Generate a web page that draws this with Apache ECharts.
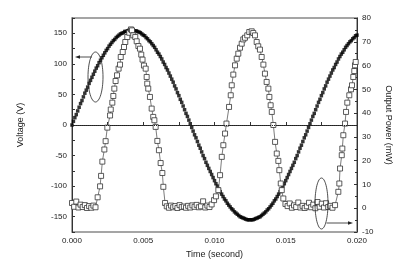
<!DOCTYPE html>
<html>
<head>
<meta charset="utf-8">
<script src="https://cdn.jsdelivr.net/npm/echarts@6/dist/echarts.min.js"></script>
<style>
  html, body { margin: 0; padding: 0; background: #fff; }
  #chart { width: 393px; height: 261px; }
</style>
</head>
<body>
<div id="chart"></div>
<script>
// voltage samples [time (s), voltage (V)]
var voltage = [
  [0, 0], [0.0001, 6], [0.0002, 12], [0.0003, 17], [0.0004, 23], [0.0005, 29], [0.0006, 35], [0.0007, 40],
  [0.0008, 46], [0.0009, 52], [0.001, 57], [0.0011, 62], [0.0012, 68], [0.0013, 73], [0.0014, 78], [0.0015, 83],
  [0.0016, 88], [0.0017, 93], [0.0018, 97], [0.0019, 102], [0.002, 106], [0.0021, 110], [0.0022, 114], [0.0023, 118],
  [0.0024, 122], [0.0025, 125], [0.0026, 129], [0.0027, 132], [0.0028, 135], [0.0029, 138], [0.003, 140], [0.0031, 143],
  [0.0032, 145], [0.0033, 147], [0.0034, 149], [0.0035, 150], [0.0036, 151], [0.0037, 153], [0.0038, 153], [0.0039, 154],
  [0.004, 155], [0.0041, 155], [0.0042, 155], [0.0043, 155], [0.0044, 154], [0.0045, 154], [0.0046, 153], [0.0047, 152],
  [0.0048, 151], [0.0049, 149], [0.005, 147], [0.0051, 146], [0.0052, 143], [0.0053, 141], [0.0054, 138], [0.0055, 136],
  [0.0056, 133], [0.0057, 130], [0.0058, 127], [0.0059, 123], [0.006, 119], [0.0061, 116], [0.0062, 112], [0.0063, 108],
  [0.0064, 103], [0.0065, 99], [0.0066, 94], [0.0067, 90], [0.0068, 85], [0.0069, 80], [0.007, 75], [0.0071, 70],
  [0.0072, 64], [0.0073, 59], [0.0074, 53], [0.0075, 48], [0.0076, 42], [0.0077, 37], [0.0078, 31], [0.0079, 25],
  [0.008, 19], [0.0081, 14], [0.0082, 8], [0.0083, 2], [0.0084, -4], [0.0085, -10], [0.0086, -16], [0.0087, -21],
  [0.0088, -27], [0.0089, -33], [0.009, -38], [0.0091, -44], [0.0092, -50], [0.0093, -55], [0.0094, -61], [0.0095, -66],
  [0.0096, -71], [0.0097, -76], [0.0098, -81], [0.0099, -86], [0.01, -91], [0.0101, -96], [0.0102, -100], [0.0103, -105],
  [0.0104, -109], [0.0105, -113], [0.0106, -117], [0.0107, -121], [0.0108, -124], [0.0109, -128], [0.011, -131], [0.0111, -134],
  [0.0112, -137], [0.0113, -139], [0.0114, -142], [0.0115, -144], [0.0116, -146], [0.0117, -148], [0.0118, -150], [0.0119, -151],
  [0.012, -152], [0.0121, -153], [0.0122, -154], [0.0123, -155], [0.0124, -155], [0.0125, -155], [0.0126, -155], [0.0127, -155],
  [0.0128, -154], [0.0129, -153], [0.013, -152], [0.0131, -151], [0.0132, -150], [0.0133, -148], [0.0134, -146], [0.0135, -144],
  [0.0136, -142], [0.0137, -139], [0.0138, -137], [0.0139, -134], [0.014, -131], [0.0141, -128], [0.0142, -124], [0.0143, -121],
  [0.0144, -117], [0.0145, -113], [0.0146, -109], [0.0147, -105], [0.0148, -100], [0.0149, -96], [0.015, -91], [0.0151, -86],
  [0.0152, -81], [0.0153, -76], [0.0154, -71], [0.0155, -66], [0.0156, -61], [0.0157, -55], [0.0158, -50], [0.0159, -44],
  [0.016, -38], [0.0161, -33], [0.0162, -27], [0.0163, -21], [0.0164, -16], [0.0165, -10], [0.0166, -4], [0.0167, 2],
  [0.0168, 8], [0.0169, 14], [0.017, 19], [0.0171, 25], [0.0172, 31], [0.0173, 37], [0.0174, 42], [0.0175, 48],
  [0.0176, 53], [0.0177, 59], [0.0178, 64], [0.0179, 70], [0.018, 75], [0.0181, 80], [0.0182, 85], [0.0183, 90],
  [0.0184, 94], [0.0185, 99], [0.0186, 103], [0.0187, 108], [0.0188, 112], [0.0189, 116], [0.019, 119], [0.0191, 123],
  [0.0192, 127], [0.0193, 130], [0.0194, 133], [0.0195, 136], [0.0196, 138], [0.0197, 141], [0.0198, 143], [0.0199, 146],
  [0.02, 147]
];

// output power samples [time (s), power (mW)]
var power = [
  [0, 2.2], [0.00015, 0.6], [0.0003, 2.8], [0.00045, 0.3], [0.0006, 1.5], [0.00075, 0.5],
  [0.0009, 1.3], [0.00105, 0.1], [0.0012, 0.9], [0.00135, 0.2], [0.0015, 1.1], [0.00165, 0.4],
  [0.0018, 4.6], [0.00197, 9.2], [0.00204, 13.6], [0.00213, 19.6], [0.00227, 24.7], [0.00236, 28.2],
  [0.00248, 33.9], [0.00267, 39.0], [0.00272, 41.5], [0.00283, 44.4], [0.0029, 47.2], [0.00297, 50.3],
  [0.00306, 53.5], [0.00316, 55.9], [0.00327, 58.7], [0.00337, 60.4], [0.00342, 63.6], [0.00356, 65.7],
  [0.00365, 67.8], [0.00374, 69.9], [0.00388, 72.0], [0.00402, 73.8], [0.00414, 75.2], [0.00421, 74.8],
  [0.0043, 72.7], [0.00444, 72.0], [0.00454, 70.2], [0.00466, 68.2], [0.00477, 67.1], [0.00486, 64.6],
  [0.00495, 62.5], [0.00505, 60.0], [0.00517, 58.7], [0.00524, 55.2], [0.00528, 52.4], [0.00535, 50.3],
  [0.00547, 46.8], [0.00559, 41.9], [0.0057, 38.4], [0.00578, 37.0], [0.00587, 34.2], [0.00599, 28.3],
  [0.0061, 24.4], [0.00622, 19.0], [0.00634, 14.8], [0.00641, 9.0], [0.00653, 2.2],
  [0.00665, 0.8], [0.0068, 0.2], [0.00695, 1.1], [0.0071, 0.4], [0.00725, 0.9], [0.0074, 0.1],
  [0.00755, 1.3], [0.0077, 0.5], [0.00785, 0.7], [0.008, 0.2], [0.00815, 1.0], [0.0083, 0.3],
  [0.00845, 1.2], [0.0086, 0.6], [0.00875, 1.4], [0.0089, 0.4], [0.00905, 0.8], [0.0092, 2.9],
  [0.00935, 0.3], [0.0095, 1.1], [0.00965, 0.5], [0.0098, 1.6],
  [0.00997, 3.4], [0.0101, 5.0], [0.01027, 7.6], [0.01039, 13.9], [0.01051, 21.6], [0.01062, 26.5],
  [0.01074, 31.4], [0.01084, 35.6], [0.01102, 42.6], [0.01114, 47.5], [0.01121, 51.7], [0.01132, 56.2],
  [0.01144, 60.1], [0.01156, 62.9], [0.01167, 65.0], [0.01179, 67.5], [0.01191, 69.2], [0.01202, 71.0],
  [0.01214, 71.7], [0.0123, 72.7], [0.01244, 74.1], [0.01261, 74.4], [0.01272, 73.7], [0.01284, 72.7],
  [0.01296, 69.9], [0.01307, 68.1], [0.01319, 66.7], [0.01331, 63.6], [0.01343, 60.4], [0.01354, 56.6],
  [0.01366, 53.1], [0.01378, 50.3], [0.01385, 46.8], [0.01394, 43.3], [0.01402, 40.5], [0.01413, 35.0],
  [0.01425, 27.9], [0.01437, 23.0], [0.01448, 19.9], [0.01455, 16.0], [0.01465, 10.4], [0.01472, 7.6],
  [0.01483, 4.1],
  [0.01498, 1.8], [0.01513, 0.9], [0.01528, 2.0], [0.01543, 0.2], [0.01558, 1.2], [0.01573, 0.5],
  [0.01588, 2.4], [0.01603, 0.3], [0.01618, 1.0], [0.01633, 0.1], [0.01648, 0.8], [0.01663, 2.3],
  [0.01678, 0.4], [0.01693, 1.5], [0.01708, 0.0], [0.01723, 2.6], [0.01738, 0.6], [0.01753, 1.9],
  [0.01768, 0.3], [0.01783, 2.1], [0.01798, 0.5], [0.01813, 1.0], [0.01828, 0.2],
  [0.01846, 1.3], [0.01869, 6.9], [0.01876, 10.4], [0.01881, 16.7], [0.01893, 22.3], [0.01897, 25.1],
  [0.01904, 30.7], [0.01916, 35.6], [0.01923, 40.5], [0.01932, 44.4], [0.01946, 47.5], [0.01958, 50.0],
  [0.01965, 51.7], [0.01974, 55.2], [0.01981, 57.7], [0.01986, 60.1], [0.01991, 61.5]
];

var timeTicks = { min: 0, max: 0.02, step: 0.005 };
var voltTicks = { min: -175, max: 175, step: 25 };
var powerTicks = { min: -10, max: 80, step: 10 };

var chart = echarts.init(document.getElementById('chart'), null, { renderer: 'canvas' });

var font = 'Liberation Sans, Arial, sans-serif';
var axisColor = '#333';
var textColor = '#222';

var option = {
  animation: false,
  backgroundColor: '#fff',
  grid: {
    left: 72, right: 36, top: 18, bottom: 29,
    outerBoundsMode: 'none',
    containLabel: false,
    show: true,
    borderColor: '#888',
    borderWidth: 1.5
  },
  xAxis: {
    type: 'value',
    min: timeTicks.min,
    max: timeTicks.max,
    interval: timeTicks.step,
    name: 'Time (second)',
    nameLocation: 'middle',
    nameGap: 16,
    nameTextStyle: { fontFamily: font, fontSize: 9, color: textColor },
    axisLine: { lineStyle: { color: axisColor, width: 1 } },
    axisTick: { inside: true, length: 3, lineStyle: { color: axisColor } },
    minorTick: { show: true, splitNumber: 2, length: 3, lineStyle: { color: axisColor } },
    splitLine: { show: false },
    axisLabel: {
      fontFamily: font, fontSize: 8, color: textColor, margin: 5,
      formatter: function (v) { return v.toFixed(3); }
    }
  },
  yAxis: [
    {
      type: 'value',
      min: voltTicks.min,
      max: voltTicks.max,
      interval: voltTicks.step,
      name: 'Voltage (V)',
      nameLocation: 'middle',
      nameGap: 47,
      nameTextStyle: { fontFamily: font, fontSize: 9, color: textColor },
      axisLine: { show: true, lineStyle: { color: axisColor, width: 1 } },
      axisTick: { inside: true, length: 3, lineStyle: { color: axisColor } },
      splitLine: { show: false },
      axisLabel: {
        fontFamily: font, fontSize: 8, color: textColor, margin: 5,
        formatter: function (v) {
          return (v % 50 === 0 && Math.abs(v) < 175) ? String(v) : '';
        }
      }
    },
    {
      type: 'value',
      position: 'right',
      min: powerTicks.min,
      max: powerTicks.max,
      interval: powerTicks.step,
      name: 'Output Power (mW)',
      nameLocation: 'middle',
      nameRotate: -90,
      nameGap: 19,
      nameTextStyle: { fontFamily: font, fontSize: 9, color: textColor },
      axisLine: { show: true, lineStyle: { color: axisColor, width: 1 } },
      axisTick: { inside: true, length: 3, lineStyle: { color: axisColor } },
      minorTick: { show: true, splitNumber: 2, length: 2, lineStyle: { color: axisColor } },
      splitLine: { show: false },
      axisLabel: { fontFamily: font, fontSize: 8, color: textColor, margin: 5 }
    }
  ],
  series: [
    {
      name: 'Voltage',
      type: 'scatter',
      yAxisIndex: 0,
      symbol: 'rect',
      symbolSize: 3.5,
      itemStyle: { color: '#000' },
      data: voltage,
      z: 2,
      markLine: {
        silent: true,
        symbol: ['none', 'none'],
        label: { show: false },
        lineStyle: { type: 'dotted', color: '#222', width: 1 },
        data: [{ yAxis: 0 }]
      }
    },
    {
      name: 'Output Power',
      type: 'line',
      yAxisIndex: 1,
      symbol: 'rect',
      symbolSize: 5,
      showSymbol: true,
      showAllSymbol: true,
      lineStyle: { color: '#444', width: 0.7 },
      itemStyle: { color: '#fff', borderColor: '#333', borderWidth: 0.8 },
      data: power,
      z: 3
    }
  ],
  graphic: [
    // left ellipse + arrow pointing to voltage axis
    { type: 'ellipse', shape: { cx: 95.5, cy: 77, rx: 7.5, ry: 25 },
      style: { fill: 'none', stroke: '#222', lineWidth: 0.8 }, z: 10 },
    { type: 'line', shape: { x1: 92, y1: 57, x2: 78, y2: 57 },
      style: { stroke: '#222', lineWidth: 0.8 }, z: 10 },
    { type: 'polygon', shape: { points: [[75, 57], [80, 55.3], [80, 58.7]] },
      style: { fill: '#222' }, z: 10 },
    // right ellipse + arrow pointing to power axis
    { type: 'ellipse', shape: { cx: 321.5, cy: 203.5, rx: 6.5, ry: 25.5 },
      style: { fill: 'none', stroke: '#222', lineWidth: 0.8 }, z: 10 },
    { type: 'line', shape: { x1: 326.5, y1: 223, x2: 349, y2: 223 },
      style: { stroke: '#222', lineWidth: 0.8 }, z: 10 },
    { type: 'polygon', shape: { points: [[353, 223], [348, 221.3], [348, 224.7]] },
      style: { fill: '#222' }, z: 10 }
  ]
};

chart.setOption(option);
</script>
</body>
</html>
